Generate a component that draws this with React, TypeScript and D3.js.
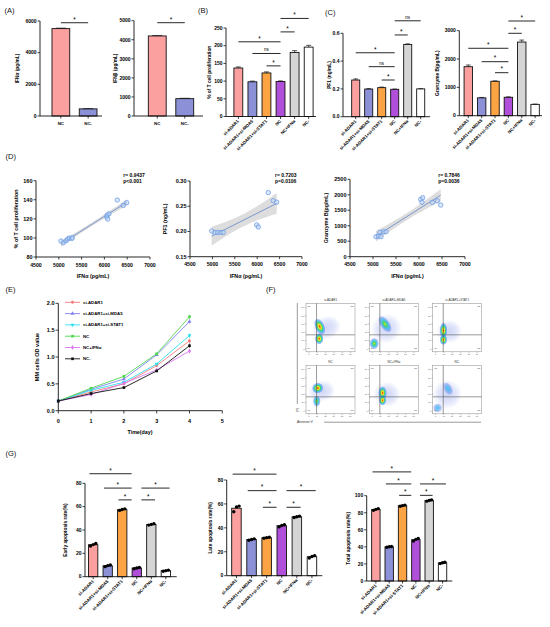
import * as React from 'react';
import * as d3 from 'd3';

const FONT = '"Liberation Sans", Arial, sans-serif';

// ---------- data ----------
const groups = ['si-ADAR1', 'si-ADAR1+si-MDA5', 'si-ADAR1+si-STAT1', 'NC', 'NC+IFNα', 'NC-'];
const groupColors = ['#fb9f9f', '#8c90d6', '#fca444', '#b04fd9', '#d5d5d5', '#ffffff'];
const ncGroups = ['NC', 'NC-'];
const ncColors = ['#fb9f9f', '#8c90d6'];

const ifnaValues = [5520, 450];
const ifnaErr = [30, 15];
const ifnbValues = [4200, 910];
const ifnbErr = [25, 20];

const tcellValues = [137, 98, 123, 99, 181, 196];
const tcellErr = [3, 2, 3, 1.5, 5, 5];
const pf1Values = [0.264, 0.199, 0.209, 0.197, 0.52, 0.2];
const pf1Err = [0.008, 0.003, 0.004, 0.002, 0.004, 0.002];
const gzbValues = [1730, 630, 1215, 650, 2600, 400];
const gzbErr = [60, 15, 15, 15, 70, 10];

// correlation scatter (IFNα vs readout)
const corrTcellX = [5048, 5099, 5158, 5195, 5230, 5283, 5296, 6050, 6063, 6101, 6072, 6283, 6415, 6489];
const corrTcellY = [96.8, 95, 97, 98.8, 99.9, 99.6, 100, 122, 124, 125.3, 119.8, 139.7, 134, 137];
const corrPf1X = [4984, 5058, 5118, 5185, 5243, 5989, 6025, 6248, 6359, 6435];
const corrPf1Y = [0.201, 0.198, 0.198, 0.198, 0.198, 0.213, 0.209, 0.277, 0.261, 0.258];
const corrGzbX = [5065, 5115, 5174, 5152, 5224, 5283, 6037, 6080, 6065, 6289, 6398, 6472];
const corrGzbY = [645, 668, 645, 787, 806, 806, 1852, 1903, 1755, 1755, 1806, 1668];

// growth curves
const days = [0, 1, 2, 3, 4];
const odAdar1 = [0.18, 0.35, 0.5, 0.84, 1.3];
const odMda5 = [0.18, 0.4, 0.59, 1.04, 1.66];
const odStat1 = [0.18, 0.38, 0.53, 0.87, 1.4];
const odNc = [0.18, 0.42, 0.64, 1.06, 1.75];
const odNcIfn = [0.18, 0.3, 0.51, 0.76, 1.11];
const odNcNeg = [0.18, 0.32, 0.43, 0.74, 1.21];
const odErr = [0.01, 0.015, 0.02, 0.02, 0.04];
const odSeries = [odAdar1, odMda5, odStat1, odNc, odNcIfn, odNcNeg];
const odColors = ['#f47a7a', '#8080f0', '#2fe0f0', '#4fd84f', '#d877f0', '#111111'];

// apoptosis replicates
const earlyDots = [[26.3, 27.5, 28.4], [8.6, 9.5, 10.0], [56.8, 57.6, 58.1], [6.8, 7.5, 7.9], [44.2, 44.8, 45.3], [4.7, 5.2, 5.6]];
const lateDots = [[53.5, 57.5, 58.2], [29.6, 30.3, 30.8], [31.3, 31.8, 32.2], [40.8, 42.0, 42.6], [48.6, 49.3, 49.8], [14.8, 16.1, 16.8]];
const totalDots = [[82.8, 84.0, 84.8], [39.6, 40.1, 40.4], [87.6, 88.4, 89.0], [46.8, 48.8, 49.8], [93.6, 94.5, 95.1], [20.4, 21.4, 22.0]];

// flow cytometry
const flowTitles = ['si-ADAR1', 'si-ADAR1+MDA5', 'si-ADAR1+STAT1', 'NC', 'NC+IFNα', 'NC-'];
const flowTicks = ['0', '10¹', '10²', '10³', '10⁴', '10⁵'];
// [annexin, PI, rx, ry, rotation, kind] in plot fractions; kind 0 haze, 1 cool, 2 warm, 3 hot
const flowPops = [
  [[0.42, 0.5, 0.3, 0.24, -20, 0], [0.28, 0.52, 0.1, 0.18, -25, 3], [0.27, 0.27, 0.09, 0.12, 0, 3]],
  [[0.35, 0.48, 0.32, 0.3, -30, 0], [0.32, 0.57, 0.1, 0.2, -35, 2], [0.1, 0.17, 0.1, 0.12, 0, 2]],
  [[0.34, 0.42, 0.26, 0.24, 0, 0], [0.22, 0.44, 0.08, 0.17, 0, 3], [0.22, 0.25, 0.08, 0.11, 0, 3]],
  [[0.32, 0.47, 0.28, 0.22, -10, 0], [0.24, 0.53, 0.12, 0.11, -20, 3], [0.22, 0.26, 0.08, 0.12, 0, 2]],
  [[0.36, 0.4, 0.28, 0.26, 0, 0], [0.27, 0.43, 0.09, 0.14, 0, 3], [0.27, 0.28, 0.08, 0.11, 0, 3]],
  [[0.3, 0.4, 0.3, 0.3, -20, 0], [0.31, 0.52, 0.09, 0.15, -30, 1], [0.1, 0.12, 0.1, 0.1, 0, 1]],
];

type Sig = { a: number; b: number; level: number; label: string };
const sigIfna: Sig[] = [{ a: 0, b: 1, level: 5890, label: '*' }];
const sigIfnb: Sig[] = [{ a: 0, b: 1, level: 4895, label: '*' }];
const sigTcell: Sig[] = [
  { a: 0, b: 3, level: 211, label: '*' }, { a: 1, b: 3, level: 178, label: 'ns' }, { a: 2, b: 3, level: 143, label: '*' },
  { a: 3, b: 5, level: 277, label: '*' }, { a: 3, b: 4, level: 239, label: '*' },
];
const sigPf1: Sig[] = [
  { a: 0, b: 3, level: 0.46, label: '*' }, { a: 1, b: 3, level: 0.36, label: 'ns' }, { a: 2, b: 3, level: 0.264, label: '*' },
  { a: 3, b: 5, level: 0.69, label: 'ns' }, { a: 3, b: 4, level: 0.588, label: '*' },
];
const sigGzb: Sig[] = [
  { a: 0, b: 3, level: 2379, label: '*' }, { a: 1, b: 3, level: 1906, label: '*' }, { a: 2, b: 3, level: 1518, label: '*' },
  { a: 3, b: 5, level: 3342, label: '*' }, { a: 3, b: 4, level: 2908, label: '*' },
];
const sigEarly: Sig[] = [
  { a: 0, b: 3, level: 88.2, label: '*' }, { a: 1, b: 3, level: 75.9, label: '*' }, { a: 2, b: 3, level: 65.8, label: '*' },
  { a: 3, b: 5, level: 75.9, label: '*' }, { a: 3, b: 4, level: 65.8, label: '*' },
];
const sigLate: Sig[] = [
  { a: 0, b: 3, level: 84.9, label: '*' }, { a: 1, b: 3, level: 71.1, label: '*' }, { a: 2, b: 3, level: 57.2, label: '*' },
  { a: 3, b: 5, level: 71.1, label: '*' }, { a: 3, b: 4, level: 57.2, label: '*' },
];
const sigTotal: Sig[] = [
  { a: 0, b: 3, level: 127.9, label: '*' }, { a: 1, b: 3, level: 113.8, label: '*' }, { a: 2, b: 3, level: 100.4, label: '*' },
  { a: 3, b: 5, level: 113.8, label: '*' }, { a: 3, b: 4, level: 100.4, label: '*' },
];

// ---------- bar chart ----------
interface BarSpec {
  cats: string[]; values: number[]; errs?: number[]; dots?: number[][]; colors: string[];
  max: number; ticks: number[]; fmt: (v: number) => string;
  axisX: number; axisEnd: number; y0: number; yTop: number; band: [number, number]; pad: number;
  sigs: Sig[]; sigMode: 'center' | 'edge'; yLabel: string; labelX: number; rotate: boolean;
  tickFont: number; catFont: number; labelFont: number;
}

function BarChart(s: BarSpec) {
  const y = d3.scaleLinear().domain([0, s.max]).range([s.y0, s.yTop]);
  const x = d3.scaleBand().domain(s.cats).range(s.band).paddingInner(s.pad).paddingOuter(s.pad / 2);
  const bw = x.bandwidth();
  const left = (i: number) => x(s.cats[i]) as number;
  const cx = (i: number) => left(i) + bw / 2;
  const sigX = (g: Sig): [number, number] => {
    if (s.sigMode === 'center') return [cx(g.a), cx(g.b)];
    if (g.b === 3) return [left(g.a) + bw * 0.1, left(g.b) - bw * 0.05];
    return [left(g.a) + bw, left(g.b) + bw * 0.9];
  };
  const stroke = '#111';
  return (
    <g fontFamily={FONT} fontWeight="bold">
      {s.values.map((v, i) => (
        <rect key={'b' + i} x={left(i)} y={y(v)} width={bw} height={s.y0 - y(v)} fill={s.colors[i]} stroke={stroke} strokeWidth={0.9} />
      ))}
      {s.errs && s.errs.map((e, i) => {
        const top = y(s.values[i] + e);
        return (
          <g key={'e' + i} stroke={stroke} strokeWidth={0.7}>
            <line x1={cx(i)} x2={cx(i)} y1={y(s.values[i])} y2={top} />
            <line x1={cx(i) - bw * 0.28} x2={cx(i) + bw * 0.28} y1={top} y2={top} />
          </g>
        );
      })}
      {s.dots && s.dots.map((ds, i) => ds.map((d, j) => (
        <circle key={`d${i}-${j}`} cx={cx(i) + (j - (ds.length - 1) / 2) * bw * 0.28} cy={y(d)} r={1.7} fill="#000" />
      )))}
      <line x1={s.axisX} x2={s.axisX} y1={s.y0} y2={s.yTop} stroke={stroke} strokeWidth={0.9} />
      <line x1={s.axisX} x2={s.axisEnd} y1={s.y0} y2={s.y0} stroke={stroke} strokeWidth={0.9} />
      {s.ticks.map(t => (
        <g key={'t' + t}>
          <line x1={s.axisX - 2.5} x2={s.axisX} y1={y(t)} y2={y(t)} stroke={stroke} strokeWidth={0.8} />
          <text x={s.axisX - 3.5} y={y(t)} dy="0.35em" textAnchor="end" fontSize={s.tickFont}>{s.fmt(t)}</text>
        </g>
      ))}
      {s.cats.map((c, i) => (
        <g key={'c' + i}>
          <line x1={cx(i)} x2={cx(i)} y1={s.y0} y2={s.y0 + 2.5} stroke={stroke} strokeWidth={0.8} />
          {s.rotate
            ? <text transform={`translate(${cx(i) + 1},${s.y0 + 5}) rotate(-45)`} textAnchor="end" fontSize={s.catFont}>{c}</text>
            : <text x={cx(i)} y={s.y0 + 9} textAnchor="middle" fontSize={s.catFont}>{c}</text>}
        </g>
      ))}
      {s.sigs.map((g, k) => {
        const [x1, x2] = sigX(g);
        const ly = y(g.level);
        return (
          <g key={'s' + k}>
            <line x1={x1} x2={x2} y1={ly} y2={ly} stroke={stroke} strokeWidth={0.9} />
            <text x={(x1 + x2) / 2} y={g.label === '*' ? ly - 1.2 : ly - 2} textAnchor="middle"
              fontSize={g.label === '*' ? 6.5 : 4.5} fontWeight="normal">{g.label}</text>
          </g>
        );
      })}
      <text transform={`translate(${s.labelX},${(s.y0 + s.yTop) / 2}) rotate(-90)`} textAnchor="middle" fontSize={s.labelFont}>{s.yLabel}</text>
    </g>
  );
}

// ---------- correlation scatter ----------
interface ScatterSpec {
  xs: number[]; ys: number[]; xRange: [number, number]; yRange: [number, number];
  yDom: [number, number]; yTicks: number[]; fmt: (v: number) => string;
  yLabel: string; labelX: number; rText: string; pText: string; statX: number;
}

function Scatter(s: ScatterSpec) {
  const x = d3.scaleLinear().domain([4500, 7000]).range(s.xRange);
  const y = d3.scaleLinear().domain(s.yDom).range(s.yRange);
  const n = s.xs.length;
  const mx = d3.mean(s.xs) as number;
  const my = d3.mean(s.ys) as number;
  const sxx = d3.sum(s.xs, v => (v - mx) ** 2);
  const sxy = d3.sum(s.xs.map((v, i) => (v - mx) * (s.ys[i] - my)));
  const b = sxy / sxx;
  const a = my - b * mx;
  const se = Math.sqrt(d3.sum(s.xs.map((v, i) => (s.ys[i] - a - b * v) ** 2)) / (n - 2));
  const t = 2.2;
  const [x0, x1] = d3.extent(s.xs) as [number, number];
  const grid = d3.range(0, 31).map(k => x0 + (x1 - x0) * k / 30);
  const half = (v: number) => t * se * Math.sqrt(1 / n + (v - mx) ** 2 / sxx);
  const band = d3.area<number>().x(v => x(v)).y0(v => y(a + b * v - half(v))).y1(v => y(a + b * v + half(v)));
  const xTicks = d3.range(4500, 7001, 500);
  const yb = s.yRange[0];
  return (
    <g fontFamily={FONT} fontWeight="bold">
      <path d={band(grid) as string} fill="#d2d2d2" opacity={0.75} />
      <line x1={x(x0)} x2={x(x1)} y1={y(a + b * x0)} y2={y(a + b * x1)} stroke="#5f86c9" strokeWidth={0.8} />
      {s.xs.map((v, i) => (
        <circle key={i} cx={x(v)} cy={y(s.ys[i])} r={2.2} fill="rgba(190,212,245,0.5)" stroke="#6c9de6" strokeWidth={0.8} />
      ))}
      <line x1={s.xRange[0]} x2={s.xRange[0]} y1={yb} y2={s.yRange[1]} stroke="#111" strokeWidth={0.9} />
      <line x1={s.xRange[0]} x2={s.xRange[1]} y1={yb} y2={yb} stroke="#111" strokeWidth={0.9} />
      {s.yTicks.map(v => (
        <g key={'y' + v}>
          <line x1={s.xRange[0] - 2.5} x2={s.xRange[0]} y1={y(v)} y2={y(v)} stroke="#111" strokeWidth={0.8} />
          <text x={s.xRange[0] - 3.5} y={y(v)} dy="0.35em" textAnchor="end" fontSize={5.5}>{s.fmt(v)}</text>
        </g>
      ))}
      {xTicks.map(v => (
        <g key={'x' + v}>
          <line x1={x(v)} x2={x(v)} y1={yb} y2={yb + 2.5} stroke="#111" strokeWidth={0.8} />
          <text x={x(v)} y={yb + 9.5} textAnchor="middle" fontSize={5.2}>{v}</text>
        </g>
      ))}
      <text x={(s.xRange[0] + s.xRange[1]) / 2} y={yb + 21} textAnchor="middle" fontSize={5.3}>IFNα (pg/mL)</text>
      <text transform={`translate(${s.labelX},${(s.yRange[0] + s.yRange[1]) / 2}) rotate(-90)`} textAnchor="middle" fontSize={5.3}>{s.yLabel}</text>
      <text x={s.statX} y={177} fontSize={5}>{s.rText}</text>
      <text x={s.statX} y={183} fontSize={5}>{s.pText}</text>
    </g>
  );
}

// ---------- growth curve ----------
const symbols = [d3.symbolCircle, d3.symbolTriangle, d3.symbolTriangle, d3.symbolSquare, d3.symbolDiamond, d3.symbolSquare];

function Growth() {
  const x = d3.scaleLinear().domain([0, 5]).range([58.3, 222.3]);
  const y = d3.scaleLinear().domain([0, 2]).range([410.7, 303.3]);
  const line = d3.line<number>().x((_, i) => x(days[i])).y(v => y(v));
  const sym = (k: number) => d3.symbol(symbols[k], 7)() as string;
  return (
    <g fontFamily={FONT} fontWeight="bold">
      {odSeries.map((ser, k) => (
        <g key={k}>
          <path d={line(ser) as string} fill="none" stroke={odColors[k]} strokeWidth={0.9} />
          {ser.map((v, i) => (
            <g key={i}>
              <line x1={x(days[i])} x2={x(days[i])} y1={y(v - odErr[i])} y2={y(v + odErr[i])} stroke={odColors[k]} strokeWidth={0.6} />
              <path d={sym(k)} transform={`translate(${x(days[i])},${y(v)})${k === 2 ? ' rotate(180)' : ''}`} fill={odColors[k]} />
            </g>
          ))}
        </g>
      ))}
      {groups.map((g, k) => {
        const ly = 302.3 + k * 11.3;
        return (
          <g key={'l' + k}>
            <line x1={65} x2={80} y1={ly} y2={ly} stroke={odColors[k]} strokeWidth={0.9} />
            <path d={sym(k)} transform={`translate(72.5,${ly})${k === 2 ? ' rotate(180)' : ''}`} fill={odColors[k]} />
            <text x={83} y={ly} dy="0.35em" fontSize={4.3}>{g}</text>
          </g>
        );
      })}
      <line x1={58.3} x2={58.3} y1={410.7} y2={303.3} stroke="#111" strokeWidth={0.9} />
      <line x1={58.3} x2={222.3} y1={410.7} y2={410.7} stroke="#111" strokeWidth={0.9} />
      {[0, 0.5, 1, 1.5, 2].map(v => (
        <g key={'y' + v}>
          <line x1={55.5} x2={58.3} y1={y(v)} y2={y(v)} stroke="#111" strokeWidth={0.8} />
          <text x={54.5} y={y(v)} dy="0.35em" textAnchor="end" fontSize={5.5}>{d3.format('.1f')(v)}</text>
        </g>
      ))}
      {d3.range(0, 6).map(v => (
        <g key={'x' + v}>
          <line x1={x(v)} x2={x(v)} y1={410.7} y2={413.5} stroke="#111" strokeWidth={0.8} />
          <text x={x(v)} y={422.5} textAnchor="middle" fontSize={5.5}>{v}</text>
        </g>
      ))}
      <text x={140} y={434} textAnchor="middle" fontSize={5.3}>Time(day)</text>
      <text transform="translate(39,357) rotate(-90)" textAnchor="middle" fontSize={5.5}>MM cells OD value</text>
    </g>
  );
}

// ---------- flow cytometry ----------
const gradStops = [
  [[0, '#5068e0', 0.28], [0.6, '#6078e6', 0.18], [1, '#6078e6', 0]],
  [[0, '#2ac8f0', 0.9], [0.45, '#3a9cf0', 0.6], [0.8, '#4a6ae0', 0.3], [1, '#4a6ae0', 0]],
  [[0, '#e8e82a', 1], [0.25, '#3ed35a', 0.95], [0.55, '#20b8f0', 0.75], [0.82, '#3c6ee6', 0.4], [1, '#3c6ee6', 0]],
  [[0, '#e8281a', 1], [0.16, '#f6a020', 1], [0.3, '#eee82a', 1], [0.48, '#3ed35a', 0.95], [0.68, '#20b8f0', 0.75], [0.86, '#3c6ee6', 0.4], [1, '#3c6ee6', 0]],
];

function FlowPlot({ px, py, w, h, title, pops, id }: { px: number; py: number; w: number; h: number; title: string; pops: number[][]; id: number }) {
  const sx = d3.scaleLinear().domain([0, 1]).range([px, px + w]);
  const sy = d3.scaleLinear().domain([0, 1]).range([py + h, py]);
  const gx = sx(0.215);
  const gy = sy(0.35);
  const tickPos = d3.range(0, 6).map(k => 0.06 + k * 0.17);
  return (
    <g fontFamily={FONT}>
      <clipPath id={'fc' + id}><rect x={px} y={py} width={w} height={h} /></clipPath>
      <rect x={px} y={py} width={w} height={h} fill="#fff" stroke="#8a8a8a" strokeWidth={0.5} />
      <g clipPath={`url(#fc${id})`}>
        {pops.map((p, k) => (
          <ellipse key={k} cx={sx(p[0])} cy={sy(p[1])} rx={p[2] * w} ry={p[3] * h}
            transform={`rotate(${p[4]},${sx(p[0])},${sy(p[1])})`} fill={`url(#fg${p[5]})`} />
        ))}
      </g>
      <line x1={gx} x2={gx} y1={py} y2={py + h} stroke="#555" strokeWidth={0.6} />
      <line x1={px} x2={px + w} y1={gy} y2={gy} stroke="#555" strokeWidth={0.6} />
      <text x={px + w / 2} y={py - 2} textAnchor="middle" fontSize={3} fill="#333">{title}</text>
      <text x={px + 1.5} y={py + 4} fontSize={2.2} fill="#444">Q1</text>
      <text x={px + w - 1.5} y={py + 4} textAnchor="end" fontSize={2.2} fill="#444">Q2</text>
      <text x={px + w - 1.5} y={py + h - 3} textAnchor="end" fontSize={2.2} fill="#444">Q3</text>
      <text x={px + 1.5} y={py + h - 3} fontSize={2.2} fill="#444">Q4</text>
      {tickPos.map((f, k) => (
        <g key={k} fill="#444">
          <line x1={px - 1.2} x2={px} y1={sy(f)} y2={sy(f)} stroke="#666" strokeWidth={0.4} />
          <text x={px - 1.6} y={sy(f)} dy="0.35em" textAnchor="end" fontSize={2}>{flowTicks[k]}</text>
          <line x1={sx(f)} x2={sx(f)} y1={py + h} y2={py + h + 1.2} stroke="#666" strokeWidth={0.4} />
          <text x={sx(f)} y={py + h + 3.4} textAnchor="middle" fontSize={2}>{flowTicks[k]}</text>
        </g>
      ))}
    </g>
  );
}

function Flow() {
  const cols = [306, 369.3, 432.7];
  const rows = [303.3, 365.3];
  return (
    <g fontFamily={FONT}>
      <defs>
        {gradStops.map((stops, g) => (
          <radialGradient key={g} id={'fg' + g}>
            {stops.map((st, j) => (
              <stop key={j} offset={st[0] as number} stopColor={st[1] as string} stopOpacity={st[2] as number} />
            ))}
          </radialGradient>
        ))}
      </defs>
      {flowTitles.map((t, i) => (
        <FlowPlot key={i} id={i} px={cols[i % 3]} py={rows[Math.floor(i / 3)]} w={49} h={48.5} title={t} pops={flowPops[i]} />
      ))}
      <line x1={297.3} x2={297.3} y1={303} y2={404} stroke="#555" strokeWidth={0.6} />
      <text transform="translate(298.5,410) rotate(-90)" textAnchor="middle" fontSize={3.5} fill="#333">PI</text>
      <text x={297} y={423.3} fontSize={3.5} fill="#333">Annexin V</text>
      <line x1={324} x2={481} y1={422.2} y2={422.2} stroke="#555" strokeWidth={0.6} />
    </g>
  );
}

// ---------- figure ----------
const panelLabels = [
  { t: '(A)', x: 4.5, y: 13 }, { t: '(B)', x: 198, y: 13 }, { t: '(C)', x: 325, y: 14.5 },
  { t: '(D)', x: 5.5, y: 158.5 }, { t: '(E)', x: 5.5, y: 292 }, { t: '(F)', x: 266, y: 292 }, { t: '(G)', x: 5.5, y: 456 },
];

const fmtInt = d3.format('d');

export default function App() {
  const common = { tickFont: 5, catFont: 4.4, labelFont: 4.8 };
  return (
    <svg width={550} height={627} style={{ position: 'absolute', left: 0, top: 0, background: '#fff' }}>
      <rect width={550} height={627} fill="#fff" />
      {panelLabels.map(p => (
        <text key={p.t} x={p.x} y={p.y} fontFamily={FONT} fontSize={7.5} fontWeight={500} fill="#111">{p.t}</text>
      ))}

      <BarChart {...common} cats={ncGroups} values={ifnaValues} errs={ifnaErr} colors={ncColors} max={6000}
        ticks={[0, 2000, 4000, 6000]} fmt={fmtInt} axisX={40} axisEnd={102} y0={116} yTop={21}
        band={[47.2, 101.8]} pad={0.35} sigs={sigIfna} sigMode="center" yLabel="IFNα (pg/mL)" labelX={19} rotate={false} />
      <BarChart {...common} cats={ncGroups} values={ifnbValues} errs={ifnbErr} colors={ncColors} max={5000}
        ticks={[0, 1000, 2000, 3000, 4000, 5000]} fmt={fmtInt} axisX={134} axisEnd={203} y0={116} yTop={20.7}
        band={[143.5, 198.5]} pad={0.35} sigs={sigIfnb} sigMode="center" yLabel="IFNβ (pg/mL)" labelX={117} rotate={false} />
      <BarChart {...common} cats={groups} values={tcellValues} errs={tcellErr} colors={groupColors} max={250}
        ticks={[0, 50, 100, 150, 200, 250]} fmt={fmtInt} axisX={226} axisEnd={316} y0={116.5} yTop={28}
        band={[231.3, 315.7]} pad={0.37} sigs={sigTcell} sigMode="center" yLabel="% of T cell proliferation" labelX={211} rotate={true} />
      <BarChart {...common} cats={groups} values={pf1Values} errs={pf1Err} colors={groupColors} max={0.6}
        ticks={[0, 0.2, 0.4, 0.6]} fmt={d3.format('.1f')} axisX={343} axisEnd={430} y0={116.7} yTop={33.3}
        band={[349.2, 427.2]} pad={0.38} sigs={sigPf1} sigMode="center" yLabel="PF1 (ng/mL)" labelX={331} rotate={true} />
      <BarChart {...common} cats={groups} values={gzbValues} errs={gzbErr} colors={groupColors} max={3000}
        ticks={[0, 1000, 2000, 3000]} fmt={fmtInt} axisX={459.3} axisEnd={542} y0={115.7} yTop={30.7}
        band={[461.6, 541.8]} pad={0.37} sigs={sigGzb} sigMode="center" yLabel="Granzyme B(pg/mL)" labelX={439} rotate={true} />

      <Scatter xs={corrTcellX} ys={corrTcellY} xRange={[36, 150]} yRange={[257, 180.7]} yDom={[80, 160]}
        yTicks={[80, 100, 120, 140, 160]} fmt={fmtInt} yLabel="% of T cell proliferation" labelX={18}
        rText="r= 0.9437" pText="p<0.001" statX={123.3} />
      <Scatter xs={corrPf1X} ys={corrPf1Y} xRange={[190, 302]} yRange={[256.7, 181]} yDom={[0.15, 0.3]}
        yTicks={[0.15, 0.2, 0.25, 0.3]} fmt={d3.format('.2f')} yLabel="PF1 (ng/mL)" labelX={166.5}
        rText="r= 0.7203" pText="p=0.0106" statX={275} />
      <Scatter xs={corrGzbX} ys={corrGzbY} xRange={[350, 465]} yRange={[256.7, 179.3]} yDom={[0, 2500]}
        yTicks={[0, 500, 1000, 1500, 2000, 2500]} fmt={fmtInt} yLabel="Granzyme B(pg/mL)" labelX={328}
        rText="r= 0.7846" pText="p=0.0036" statX={438.3} />

      <Growth />
      <Flow />

      <BarChart {...common} cats={groups} values={earlyDots.map(d => d3.mean(d) as number)} dots={earlyDots} colors={groupColors} max={80}
        ticks={[0, 20, 40, 60, 80]} fmt={fmtInt} axisX={85} axisEnd={176.7} y0={576.7} yTop={483.3}
        band={[85.9, 173.1]} pad={0.36} sigs={sigEarly} sigMode="edge" yLabel="Early apoptosis rate(%)" labelX={66.5} rotate={true} />
      <BarChart {...common} cats={groups} values={lateDots.map(d => d3.mean(d) as number)} dots={lateDots} colors={groupColors} max={80}
        ticks={[0, 20, 40, 60, 80]} fmt={fmtInt} axisX={226.7} axisEnd={322.3} y0={575.7} yTop={480}
        band={[228.9, 319.5]} pad={0.37} sigs={sigLate} sigMode="edge" yLabel="Late apoptosis rate(%)" labelX={211.5} rotate={true} />
      <BarChart {...common} cats={groups} values={totalDots.map(d => d3.mean(d) as number)} dots={totalDots} colors={groupColors} max={100}
        ticks={[0, 20, 40, 60, 80, 100]} fmt={fmtInt} axisX={366.7} axisEnd={452.3} y0={581} yTop={495.7}
        band={[369.2, 449.2]} pad={0.37} sigs={sigTotal} sigMode="edge" yLabel="Total apoptosis rate(%)" labelX={350} rotate={true} />
    </svg>
  );
}
